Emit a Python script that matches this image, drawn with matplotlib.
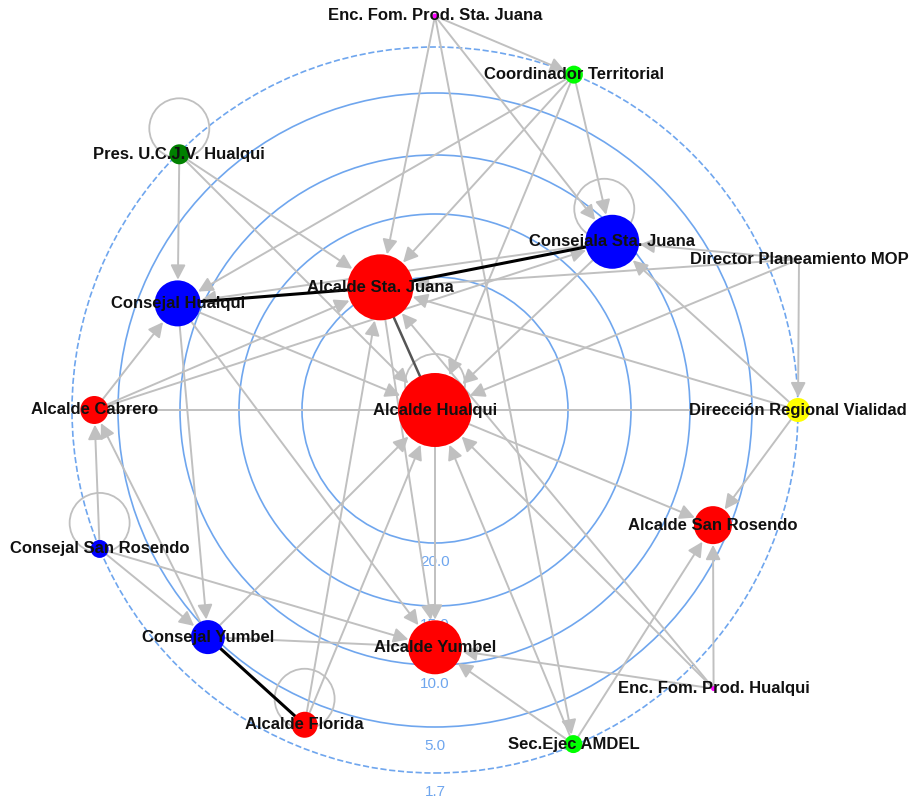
import numpy as np
import matplotlib
matplotlib.use("Agg")
import matplotlib.pyplot as plt
from matplotlib.patches import FancyArrowPatch, Circle

plt.rcParams['font.family'] = ['Liberation Sans', 'DejaVu Sans']

# actores de la red
claves = ["HUA", "SJU", "CSJ", "CHU", "CAB", "CSR", "CYU", "FLO", "YUM",
          "AMD", "EFH", "ASR", "DRV", "DPM", "COO", "EFS", "UCJ"]
nombres = ["Alcalde Hualqui", "Alcalde Sta. Juana", "Consejala Sta. Juana",
           "Consejal Hualqui", "Alcalde Cabrero", "Consejal San Rosendo",
           "Consejal Yumbel", "Alcalde Florida", "Alcalde Yumbel",
           "Sec.Ejec AMDEL", "Enc. Fom. Prod. Hualqui", "Alcalde San Rosendo",
           "Dirección Regional Vialidad", "Director Planeamiento MOP",
           "Coordinador Territorial", "Enc. Fom. Prod. Sta. Juana",
           "Pres. U.C.J.V. Hualqui"]
# centralidad (posicion radial) y angulo en el circulo
centralidad = [31.0, 19.9, 10.9, 8.1, 3.3, 1.7, 4.7, 3.3, 11.5,
               1.8, 0.0, 6.3, 1.7, 0.0, 1.7, 0.0, 1.8]
angulo = [0, 114, 43.5, 157.5, 180, 202.5, 225, 247.5, 270,
          292.5, 315, 337.5, 0, 22.5, 67.5, 90, 135]
tamano = [37, 33, 27, 23, 14, 9, 17, 13, 27, 9, 2.5, 19, 12, 0, 9, 2.5, 10]
colores = ["red", "red", "blue", "blue", "red", "blue", "blue", "red", "red",
           "#00ff00", "magenta", "red", "yellow", "white", "#00ff00", "magenta", "#008000"]

# lazos (autorrelaciones)
lazos = ["UCJ", "CSJ", "HUA", "CSR", "FLO"]

# relaciones dirigidas
flechas = [("EFS", "COO"), ("EFS", "SJU"), ("EFS", "CSJ"), ("EFS", "AMD"),
           ("COO", "CHU"), ("COO", "SJU"), ("COO", "HUA"), ("COO", "CSJ"),
           ("UCJ", "CHU"), ("UCJ", "SJU"), ("UCJ", "HUA"),
           ("CHU", "HUA"), ("CHU", "CYU"), ("CHU", "YUM"),
           ("CAB", "CHU"), ("CAB", "SJU"), ("CAB", "CSJ"),
           ("CSR", "CAB"), ("CSR", "CYU"), ("CSR", "YUM"),
           ("CYU", "CAB"), ("CYU", "HUA"),
           ("FLO", "SJU"), ("FLO", "HUA"),
           ("HUA", "YUM"), ("HUA", "ASR"), ("SJU", "YUM"),
           ("AMD", "YUM"), ("AMD", "ASR"), ("AMD", "HUA"),
           ("EFH", "ASR"), ("EFH", "HUA"), ("EFH", "SJU"), ("EFH", "YUM"),
           ("DRV", "SJU"), ("DRV", "CSJ"), ("DRV", "ASR"),
           ("DPM", "DRV"), ("DPM", "CSJ"), ("DPM", "SJU"), ("DPM", "HUA"),
           ("CSJ", "HUA"), ("CSJ", "CHU")]
# relaciones sin punta visible
simples = [("CAB", "HUA"), ("HUA", "DRV"), ("CYU", "YUM")]
# relaciones reciprocas (negro)
fuertes = [("CHU", "SJU"), ("SJU", "CSJ"), ("CYU", "FLO")]
medias = [("HUA", "SJU")]

# anillos de referencia
anillos = [20.0, 15.0, 10.0, 5.0, 1.7]
escala_val = [0, 1.7, 5, 10, 15, 20, 31]
escala_r = [394, 363, 317, 255, 196, 133, 0]

radio = np.interp(centralidad, escala_val, escala_r)
ang = np.radians(angulo)
pos = {c: (r * np.cos(a), r * np.sin(a)) for c, r, a in zip(claves, radio, ang)}
tam = dict(zip(claves, tamano))

fig = plt.figure(figsize=(9.15, 7.98), dpi=100)
ax = fig.add_axes([0, 0, 1, 1])
ax.set_xlim(-435, 480)
ax.set_ylim(-388, 410)
ax.set_aspect("equal")
ax.axis("off")

azul = "#6fa6ee"
for v in anillos:
    r = np.interp(v, escala_val, escala_r)
    ls = "--" if v == anillos[-1] else "-"
    ax.add_patch(Circle((0, 0), r, fill=False, ec=azul, lw=1.2, ls=ls, zorder=1))
    ax.text(0, -r - 19, f"{v:.1f}", color=azul, fontsize=11, ha="center", va="center", zorder=2)

gris = "#c0c0c0"
pt = 0.72  # px -> puntos

for c in lazos:
    x, y = pos[c]
    dx, dy = (-8, 33) if c == "CSJ" else (0, 26)
    ax.add_patch(Circle((x + dx, y + dy), 30, fill=False, ec=gris, lw=1.3, zorder=2))

for a, b in flechas:
    p = FancyArrowPatch(pos[a], pos[b], arrowstyle="-|>,head_length=0.55,head_width=0.28",
                        mutation_scale=16, color=gris, lw=1.4,
                        shrinkA=tam[a] * pt, shrinkB=tam[b] * pt + 0.5, zorder=3)
    ax.add_patch(p)

for a, b in simples:
    ax.plot([pos[a][0], pos[b][0]], [pos[a][1], pos[b][1]], color=gris, lw=1.4, zorder=3)

for a, b in medias:
    ax.plot([pos[a][0], pos[b][0]], [pos[a][1], pos[b][1]], color="#555555", lw=1.8, zorder=4)

for a, b in fuertes:
    ax.plot([pos[a][0], pos[b][0]], [pos[a][1], pos[b][1]], color="black", lw=2.2, zorder=4)

for c, col in zip(claves, colores):
    x, y = pos[c]
    if tam[c] > 0:
        ax.add_patch(Circle((x, y), tam[c], fc=col, ec="none", zorder=5))

for c, n in zip(claves, nombres):
    x, y = pos[c]
    ax.text(x, y, n, fontsize=12, fontweight="bold", color="#111111",
            ha="center", va="center", zorder=6)

fig.savefig("out.png", dpi=100, facecolor="white")
